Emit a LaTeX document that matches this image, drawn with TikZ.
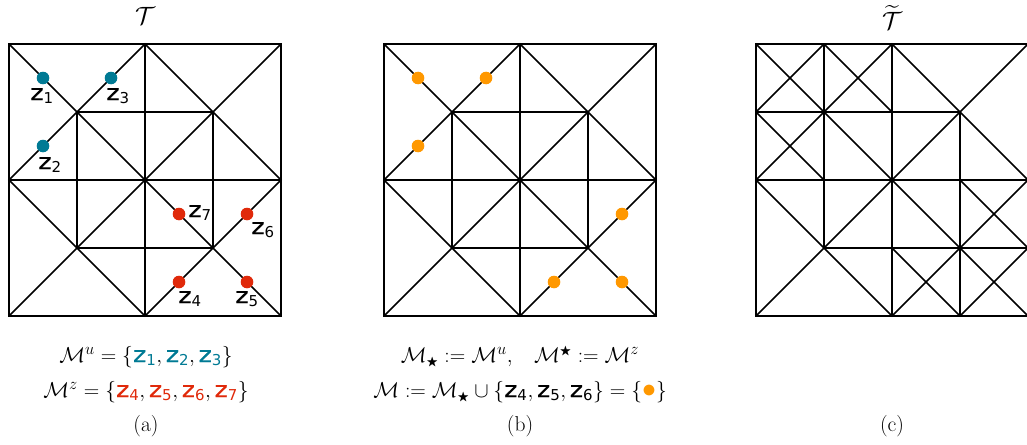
\documentclass[tikz,border=0pt]{standalone}
\usepackage{fix-cm}
\usepackage{amsmath,amssymb}
\usepackage{fontspec}
\newfontfamily\zfont[FakeBold=0.3,FakeStretch=1.18]{DejaVu Sans}
\newfontfamily\zsub{DejaVu Sans}
\DeclareMathSizes{21.5}{21.5}{16.5}{12}
\definecolor{zteal}{HTML}{007A94}
\definecolor{zred}{HTML}{E0290A}
\definecolor{zorange}{HTML}{FF9800}
\newcommand{\za}[1]{\text{\zfont\fontsize{21.5}{24}\selectfont z}_{\text{\zsub\fontsize{15}{16}\selectfont #1}}}
\newcommand{\bstar}{{\scriptscriptstyle\bigstar}}
\newcommand{\basemesh}{
  \draw[mesh] (0,0) rectangle (4,4);
  \draw[mesh] (2,0)--(2,4) (0,2)--(4,2) (1,1) rectangle (3,3);
  \draw[mesh] (0,0)--(4,4) (0,4)--(4,0) (2,0)--(0,2)--(2,4)--(4,2)--cycle;
}
\tikzset{
  mesh/.style={line width=1.6pt,black,line join=miter},
  captext/.style={anchor=base,font=\fontsize{21.5}{24}\selectfont,inner sep=0pt},
  lab/.style={font=\fontsize{21.5}{24}\selectfont,inner sep=0pt,anchor=base},
  title/.style={anchor=base,font=\fontsize{25}{28}\selectfont,inner sep=0pt},
  dot/.style={circle,fill=#1,draw=none,minimum size=12.6pt,inner sep=0pt},
}
\begin{document}
\begin{tikzpicture}[x=1pt,y=-1pt]
\useasboundingbox (0,0) rectangle (1027,444);
% panel (a)
\begin{scope}[shift={(9,44)},x=68pt,y=-68pt]
  \basemesh
  \node[dot=zteal] (a1) at (0.5,0.5) {};
  \node[dot=zteal] (a3) at (1.5,0.5) {};
  \node[dot=zteal] (a2) at (0.5,1.5) {};
  \node[dot=zred] (a7) at (2.5,2.5) {};
  \node[dot=zred] (a6) at (3.5,2.5) {};
  \node[dot=zred] (a4) at (2.5,3.5) {};
  \node[dot=zred] (a5) at (3.5,3.5) {};
\end{scope}
\node[lab] (l1) at (42,100) {$\za1$};
\node[lab] (l3) at (118,100) {$\za3$};
\node[lab] (l2) at (50,169) {$\za2$};
\node[lab] (l7) at (200,217) {$\za7$};
\node[lab] (l6) at (263,234) {$\za6$};
\node[lab] (l4) at (190,303) {$\za4$};
\node[lab] (l5) at (247,303) {$\za5$};
\node[title] (ta) at (145,25) {$\mathcal{T}$};
\node[captext] (ca1) at (146,362) {$\mathcal{M}^{u}=\{\textcolor{zteal}{\za1},\textcolor{zteal}{\za2},\textcolor{zteal}{\za3}\}$};
\node[captext] (ca2) at (146,397) {$\mathcal{M}^{z}=\{\textcolor{zred}{\za4},\textcolor{zred}{\za5},\textcolor{zred}{\za6},\textcolor{zred}{\za7}\}$};
\node[captext] (ca3) at (146,431) {(a)};
% panel (b)
\begin{scope}[shift={(384,44)},x=68pt,y=-68pt]
  \basemesh
  \node[dot=zorange] (b1) at (0.5,0.5) {};
  \node[dot=zorange] (b3) at (1.5,0.5) {};
  \node[dot=zorange] (b2) at (0.5,1.5) {};
  \node[dot=zorange] (b6) at (3.5,2.5) {};
  \node[dot=zorange] (b4) at (2.5,3.5) {};
  \node[dot=zorange] (b5) at (3.5,3.5) {};
\end{scope}
\node[captext] (cb1) at (520,362) {$\mathcal{M}_{\bstar}:=\mathcal{M}^{u},\;\;\;\mathcal{M}^{\bstar}:=\mathcal{M}^{z}$};
\node[captext] (cb2) at (520,397) {$\mathcal{M}:=\mathcal{M}_{\bstar}\cup\{\za4,\za5,\za6\}=\{\textcolor{zorange}{\scalebox{1.3}{$\bullet$}}\}$};
\node[captext] (cb3) at (520,431) {(b)};
% panel (c)
\begin{scope}[shift={(756,44)},x=68pt,y=-68pt]
  \basemesh
  \draw[mesh] (1,0)--(1,1) (0,1)--(1,1);
  \draw[mesh] (1,0)--(2,1) (0,1)--(1,2) (0,1)--(1,0);
  \draw[mesh] (3,3)--(3,4) (3,3)--(4,3);
  \draw[mesh] (3,2)--(4,3) (2,3)--(3,4) (3,4)--(4,3);
\end{scope}
\node[title] (tc) at (892,30) {$\widetilde{\mathcal{T}}$};
\node[captext] (cc3) at (892,431) {(c)};
\end{tikzpicture}
\end{document}
